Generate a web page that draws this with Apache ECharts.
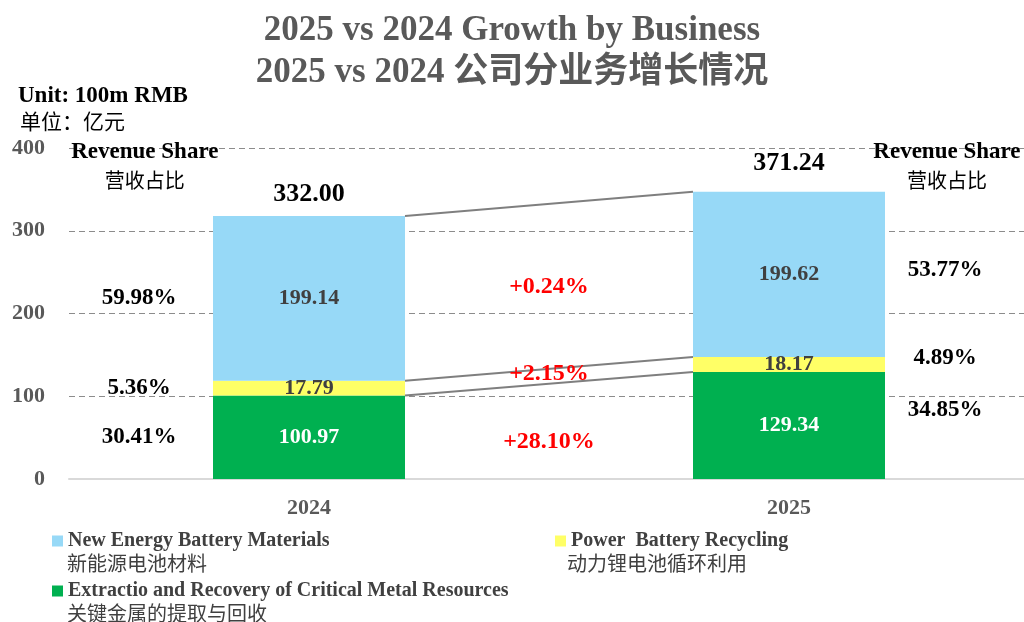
<!DOCTYPE html>
<html><head><meta charset="utf-8">
<script src="https://cdn.jsdelivr.net/npm/echarts@6/dist/echarts.min.js"></script>
<style>html,body{margin:0;padding:0;background:#fff}#c{width:1024px;height:622px}</style>
</head><body><div id="c"></div>
<script>
const categories = ['2024', '2025'];
const titleLines = ['2025 vs 2024 Growth by Business', '2025 vs 2024 公司分业务增长情况'];
const seriesNamesEn = ['New Energy Battery Materials', 'Power  Battery Recycling', 'Extractio and Recovery of Critical Metal Resources'];
const seriesNamesZh = ['新能源电池材料', '动力锂电池循环利用', '关键金属的提取与回收'];
const metalValues = [100.97, 129.34];
const recyclingValues = [17.79, 18.17];
const materialsValues = [199.14, 199.62];
const totalLabels = ['332.00', '371.24'];
const share2024 = ['30.41%', '5.36%', '59.98%']; // metal, recycling, materials
const share2025 = ['34.85%', '4.89%', '53.77%'];
const growthLabels = ['+28.10%', '+2.15%', '+0.24%'];
const yMin = 0, yMax = 400, yInterval = 100;

const SERIF = '"Liberation Serif", "Times New Roman", serif';
const MIXED = '"Liberation Serif", "Noto Sans CJK SC", serif';
const CJK = '"Noto Sans CJK SC", sans-serif';
const colors = { materials: '#97D9F7', recycling: '#FFFF66', metal: '#00B050' };

function renderOverlay(params, api) {
  const band = api.size([1, 0])[0];
  const half = band * 0.2;
  const stacks = categories.map((_, i) => {
    const a = metalValues[i], b = a + recyclingValues[i], c = b + materialsValues[i];
    return [a, b, c];
  });
  const mids = categories.map((_, i) => [
    metalValues[i] / 2,
    stacks[i][0] + recyclingValues[i] / 2,
    stacks[i][1] + materialsValues[i] / 2
  ]);
  const children = [];
  for (let k = 0; k < 3; k++) {
    const p0 = api.coord([0, stacks[0][k]]), p1 = api.coord([1, stacks[1][k]]);
    children.push({ type: 'line', shape: { x1: p0[0] + half, y1: p0[1], x2: p1[0] - half, y2: p1[1] },
      style: { stroke: '#7f7f7f', lineWidth: 2 } });
  }
  const txt = (x, y, text, font, fill) => ({ type: 'text', style: { x, y, text, font, fill, align: 'center', verticalAlign: 'middle' } });
  const shareFont = 'bold 23px ' + SERIF;
  const off2025 = [-15, -6, -4];
  for (let k = 0; k < 3; k++) {
    const a = api.coord([0, mids[0][k]]);
    children.push(txt(a[0] - band * 0.354, a[1], share2024[k], shareFont, '#000'));
    const b = api.coord([1, mids[1][k]]);
    children.push(txt(b[0] + band * 0.325, b[1] + off2025[k], share2025[k], shareFont, '#000'));
  }
  const gOff = [10, -2, 0];
  for (let k = 0; k < 3; k++) {
    const a = api.coord([0, mids[0][k]]), b = api.coord([1, mids[1][k]]);
    children.push(txt((a[0] + b[0]) / 2, (a[1] + b[1]) / 2 + gOff[k], growthLabels[k], 'bold 24px ' + SERIF, '#FF0000'));
  }
  const tOff = [22, 28];
  for (let i = 0; i < 2; i++) {
    const p = api.coord([i, stacks[i][2]]);
    children.push(txt(p[0], p[1] - tOff[i], totalLabels[i], 'bold 26px ' + SERIF, '#000'));
  }
  const top0 = api.coord([0, yMax]), top1 = api.coord([1, yMax]);
  children.push(txt(top0[0] - band * 0.342, top0[1] + 4, 'Revenue Share', 'bold 23px ' + SERIF, '#000'));
  children.push(txt(top0[0] - band * 0.342, top0[1] + 32, '营收占比', '20px ' + CJK, '#000'));
  children.push(txt(top1[0] + band * 0.329, top1[1] + 4, 'Revenue Share', 'bold 23px ' + SERIF, '#000'));
  children.push(txt(top1[0] + band * 0.329, top1[1] + 32, '营收占比', '20px ' + CJK, '#000'));
  return { type: 'group', children };
}

const barLabel = (color) => ({
  show: true, position: 'inside', color, fontFamily: SERIF, fontWeight: 'bold', fontSize: 22,
  formatter: p => p.value.toFixed(2)
});

const legendBase = {
  icon: 'rect', itemWidth: 11, itemHeight: 11, itemGap: 0, padding: 0, selectedMode: false,
  textStyle: { fontFamily: SERIF, fontSize: 20, fontWeight: 'bold', color: '#404040' }
};

const titleStyle = { fontFamily: MIXED, fontSize: 35, fontWeight: 'bold', color: '#595959' };

const option = {
  backgroundColor: '#fff',
  animation: false,
  title: [
    { text: titleLines[0], left: 'center', top: 13, padding: 0, textStyle: titleStyle },
    { text: titleLines[1], left: 'center', top: 55, padding: 0, textStyle: titleStyle }
  ],
  grid: { left: 69, width: 960, top: 148, height: 331, outerBoundsMode: 'none', containLabel: false },
  xAxis: {
    type: 'category', data: categories,
    axisLine: { show: true, lineStyle: { color: '#d9d9d9', width: 2 } },
    axisTick: { show: false },
    axisLabel: { margin: 18, fontFamily: SERIF, fontSize: 22, fontWeight: 'bold', color: '#595959' }
  },
  yAxis: {
    type: 'value', min: yMin, max: yMax, interval: yInterval,
    axisLine: { show: false }, axisTick: { show: false },
    axisLabel: { margin: 24, fontFamily: SERIF, fontSize: 22, fontWeight: 'bold', color: '#595959' },
    splitLine: { show: true, lineStyle: { color: '#8c8c8c', type: [6, 4], width: 1 } }
  },
  legend: [
    Object.assign({ left: 52, top: 531, data: [seriesNamesEn[0]] }, legendBase),
    Object.assign({ left: 555, top: 531, data: [seriesNamesEn[1]] }, legendBase),
    Object.assign({ left: 52, top: 581, data: [seriesNamesEn[2]] }, legendBase)
  ],
  graphic: [
    { type: 'text', left: 67, top: 553, style: { text: seriesNamesZh[0], font: '20px ' + CJK, fill: '#404040' } },
    { type: 'text', left: 567, top: 553, style: { text: seriesNamesZh[1], font: '20px ' + CJK, fill: '#404040' } },
    { type: 'text', left: 67, top: 603, style: { text: seriesNamesZh[2], font: '20px ' + CJK, fill: '#404040' } },
    { type: 'text', left: 18, top: 85, style: { text: 'Unit: 100m RMB', font: 'bold 23px ' + SERIF, fill: '#000' } },
    { type: 'text', left: 20, top: 111, style: { text: '单位：亿元', font: '21px ' + CJK, fill: '#000' } }
  ],
  series: [
    { name: seriesNamesEn[2], type: 'bar', stack: 'total', barWidth: '40%', data: metalValues,
      itemStyle: { color: colors.metal }, label: barLabel('#ffffff') },
    { name: seriesNamesEn[1], type: 'bar', stack: 'total', barWidth: '40%', data: recyclingValues,
      itemStyle: { color: colors.recycling }, label: barLabel('#404040') },
    { name: seriesNamesEn[0], type: 'bar', stack: 'total', barWidth: '40%', data: materialsValues,
      itemStyle: { color: colors.materials }, label: barLabel('#404040') },
    { type: 'custom', coordinateSystem: 'cartesian2d', renderItem: renderOverlay, data: [[0, 0]],
      encode: { x: 0, y: 1 }, silent: true, clip: false, z: 10 }
  ]
};
echarts.init(document.getElementById('c')).setOption(option);
</script>
</body></html>
